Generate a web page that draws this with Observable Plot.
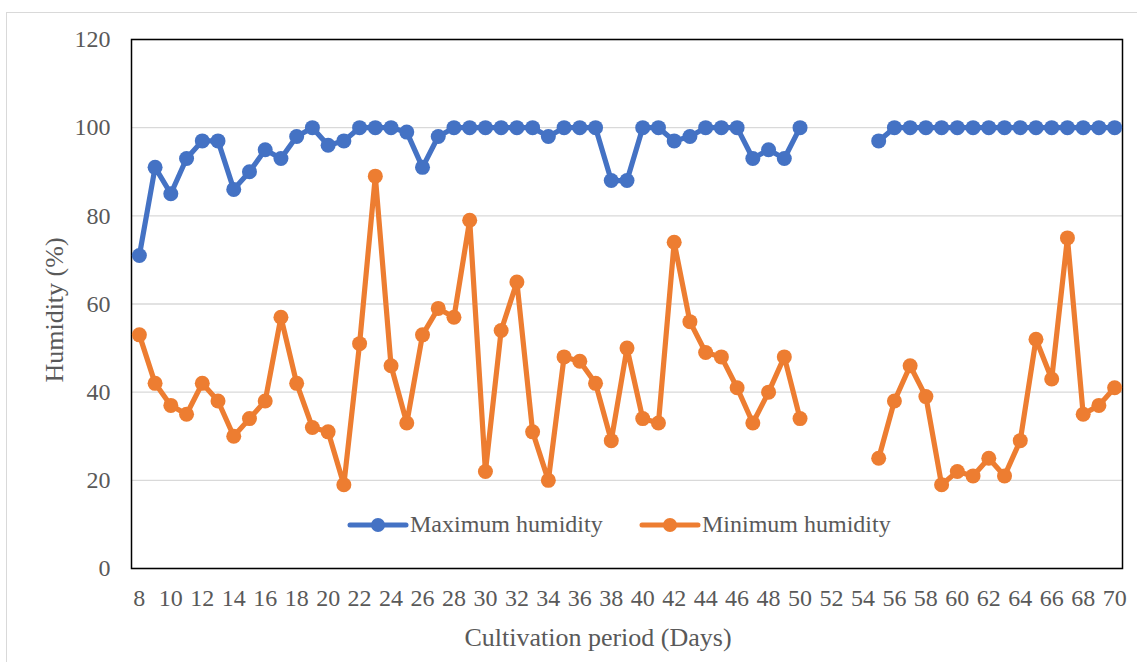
<!DOCTYPE html>
<html>
<head>
<meta charset="utf-8">
<script src="https://cdn.jsdelivr.net/npm/d3@7"></script>
<script src="https://cdn.jsdelivr.net/npm/@observablehq/plot@0.6"></script>
<style>
  html, body { margin: 0; padding: 0; background: #ffffff; }
  #chart { position: relative; width: 1137px; height: 662px; overflow: hidden; }
  #outline { position: absolute; left: 6px; top: 12px; width: 1160px; height: 680px;
             border: 1px solid #d9d9d9; box-sizing: border-box; }
  #chart svg { position: absolute; left: 0; top: 0; }
</style>
</head>
<body>
<div id="chart"><div id="outline"></div></div>
<script>
// Cultivation day (category axis)
const days = [8, 9, 10, 11, 12, 13, 14, 15, 16, 17, 18, 19, 20, 21, 22, 23, 24, 25, 26, 27,
  28, 29, 30, 31, 32, 33, 34, 35, 36, 37, 38, 39, 40, 41, 42, 43, 44, 45, 46, 47,
  48, 49, 50, 51, 52, 53, 54, 55, 56, 57, 58, 59, 60, 61, 62, 63, 64, 65, 66, 67,
  68, 69, 70];

// Daily maximum relative humidity (%); days 51-54 were not recorded
const maxHumidity = [71, 91, 85, 93, 97, 97, 86, 90, 95, 93, 98, 100, 96, 97, 100, 100, 100, 99, 91, 98,
  100, 100, 100, 100, 100, 100, 98, 100, 100, 100, 88, 88, 100, 100, 97, 98, 100, 100, 100, 93,
  95, 93, 100, null, null, null, null, 97, 100, 100, 100, 100, 100, 100, 100, 100, 100, 100, 100, 100,
  100, 100, 100];

// Daily minimum relative humidity (%)
const minHumidity = [53, 42, 37, 35, 42, 38, 30, 34, 38, 57, 42, 32, 31, 19, 51, 89, 46, 33, 53, 59,
  57, 79, 22, 54, 65, 31, 20, 48, 47, 42, 29, 50, 34, 33, 74, 56, 49, 48, 41, 33,
  40, 48, 34, null, null, null, null, 25, 38, 46, 39, 19, 22, 21, 25, 21, 29, 52, 43, 75,
  35, 37, 41];

const xTicks = [8, 10, 12, 14, 16, 18, 20, 22, 24, 26, 28, 30, 32, 34, 36, 38, 40,
  42, 44, 46, 48, 50, 52, 54, 56, 58, 60, 62, 64, 66, 68, 70];
const yTicks = [0, 20, 40, 60, 80, 100, 120];

const seriesNames = ["Maximum humidity", "Minimum humidity"];
const seriesColors = ["#4472C4", "#ED7D31"];

const maxRows = days.map((d, i) => ({day: d, value: maxHumidity[i]}));
const minRows = days.map((d, i) => ({day: d, value: minHumidity[i]}));

const font = "'Liberation Serif', 'Times New Roman', serif";
const textColor = "#595959";

const chart = Plot.plot({
  width: 1137,
  height: 662,
  marginLeft: 131,
  marginRight: 15,
  marginTop: 39,
  marginBottom: 94,
  style: {fontFamily: font, fontSize: "24px", color: textColor, background: "transparent", overflow: "visible"},
  x: {domain: [7.5, 70.5], label: null},
  y: {domain: [0, 120], label: null},
  marks: [
    Plot.gridY(yTicks, {stroke: "#d9d9d9", strokeOpacity: 1, strokeWidth: 1.3}),
    Plot.axisY(yTicks, {tickSize: 0, tickPadding: 21, fontSize: 24, fill: textColor, label: null}),
    Plot.axisX(xTicks, {tickSize: 0, tickPadding: 20, fontSize: 24, fill: textColor, label: null,
      tickFormat: d => String(d)}),
    Plot.frame({stroke: "#000000", strokeWidth: 1.5}),
    Plot.line(maxRows, {x: "day", y: "value", stroke: seriesColors[0], strokeWidth: 5.2, strokeLinejoin: "round", strokeLinecap: "round"}),
    Plot.dot(maxRows, {x: "day", y: "value", r: 7.5, fill: seriesColors[0]}),
    Plot.line(minRows, {x: "day", y: "value", stroke: seriesColors[1], strokeWidth: 5.2, strokeLinejoin: "round", strokeLinecap: "round"}),
    Plot.dot(minRows, {x: "day", y: "value", r: 7.5, fill: seriesColors[1]}),
    // axis titles
    Plot.text(["Humidity (%)"], {frameAnchor: "left", textAnchor: "middle", lineAnchor: "middle",
      rotate: -90, dx: -77, dy: 6, fontSize: 26, fill: textColor}),
    Plot.text(["Cultivation period (Days)"], {frameAnchor: "bottom", textAnchor: "middle", lineAnchor: "middle",
      dx: -29, dy: 69, fontSize: 26, fill: textColor})
  ]
});

document.getElementById("chart").appendChild(chart);

// Legend drawn inside the plot area, below the series
const svg = d3.select(chart);
const legend = svg.append("g")
  .attr("font-family", font).attr("font-size", 24).attr("fill", textColor)
  .attr("text-anchor", "start");
const legendItems = [{x: 350, name: seriesNames[0], color: seriesColors[0]},
                     {x: 642, name: seriesNames[1], color: seriesColors[1]}];
const legendY = 525;
for (const item of legendItems) {
  const g = legend.append("g").attr("transform", `translate(${item.x},${legendY})`);
  g.append("line").attr("x1", 0).attr("x2", 56).attr("y1", 0).attr("y2", 0)
    .attr("stroke", item.color).attr("stroke-width", 5).attr("stroke-linecap", "round");
  g.append("circle").attr("cx", 28).attr("cy", 0).attr("r", 7).attr("fill", item.color);
  g.append("text").attr("x", 60).attr("y", 0).attr("dy", "0.3em")
    .attr("text-anchor", "start").text(item.name);
}
</script>
</body>
</html>
